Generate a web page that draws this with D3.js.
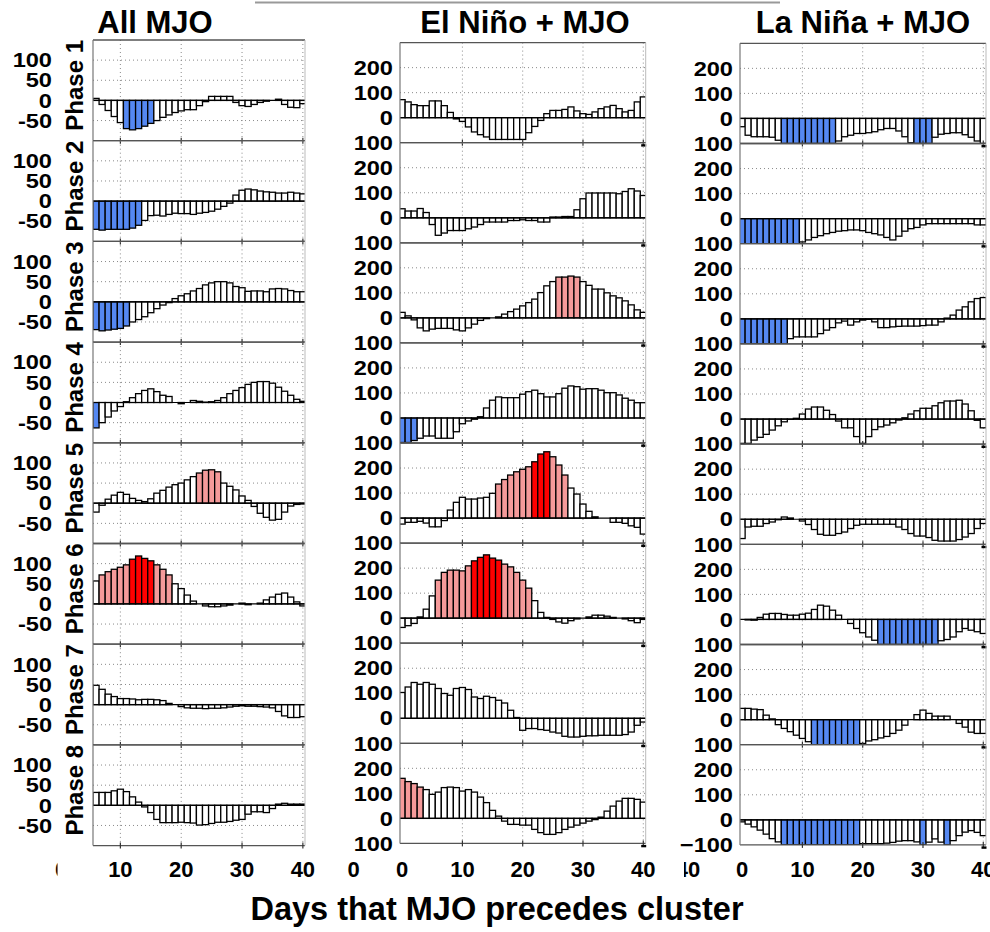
<!DOCTYPE html>
<html>
<head>
<meta charset="utf-8">
<script src="https://cdn.jsdelivr.net/npm/d3@7"></script>
<style>
  body { margin: 0; background: #fff; }
  svg { display: block; font-family: "Liberation Sans", Arial, sans-serif; font-weight: bold; }
</style>
</head>
<body>
<svg id="chart" width="990" height="932"></svg>
<script>
// days plotted (All MJO panel is cropped on the left, so it starts at day 6)
const days = d3.range(0, 41);
const allDays = d3.range(6, 41);
const xTicks = [0, 10, 20, 30, 40];
const phaseNames = ['Phase 1', 'Phase 2', 'Phase 3', 'Phase 4', 'Phase 5', 'Phase 6', 'Phase 7', 'Phase 8'];

// All MJO, days 6..40
const allMJO = [
  [5,-10,-25,-40,-55,-70,-73,-70,-64,-57,-50,-42,-36,-30,-26,-23,-23,-13,-3,10,10,10,10,-5,-13,-15,-10,-5,-2,0,3,-10,-17,-18,-8],
  [-70,-72,-70,-70,-70,-70,-67,-60,-48,-36,-35,-37,-33,-30,-31,-31,-33,-30,-28,-25,-20,-13,-5,15,27,30,28,25,23,22,20,20,22,20,18],
  [-69,-72,-70,-68,-66,-60,-50,-44,-37,-27,-17,-8,-2,8,15,20,27,33,42,47,50,50,47,38,35,26,27,27,25,32,33,32,28,25,25],
  [-63,-50,-36,-21,-10,2,12,22,30,34,27,18,15,0,-3,0,5,3,1,2,5,12,22,30,37,45,50,52,52,48,38,28,18,8,3],
  [-22,-5,10,20,27,22,12,7,4,11,25,32,40,46,50,58,66,75,82,83,78,50,42,33,18,7,-8,-25,-35,-42,-40,-22,-7,-3,-2],
  [57,72,80,86,91,97,111,119,113,107,97,86,72,50,38,22,7,0,-5,-7,-7,-5,-3,0,2,-2,0,2,10,17,24,27,17,5,-5],
  [48,38,26,20,15,15,14,12,13,13,12,10,3,0,-5,-8,-9,-9,-10,-9,-9,-8,-6,-4,-3,-4,-4,-5,-6,-8,-17,-28,-32,-32,-30],
  [32,32,32,36,40,34,21,8,-4,-18,-35,-43,-43,-43,-42,-43,-44,-49,-48,-45,-42,-42,-40,-37,-35,-22,-16,-16,-18,-8,3,5,3,3,3]
];

// El Niño + MJO, days 0..40
const elNino = [
  [72,63,52,48,48,67,67,48,21,-5,-15,-37,-57,-68,-77,-87,-87,-87,-87,-87,-87,-60,-35,-11,16,29,29,33,43,27,16,13,23,36,43,49,36,23,29,63,83],
  [36,27,27,37,21,-27,-70,-61,-51,-51,-51,-44,-37,-27,-17,-17,-17,-17,-11,-11,-8,-11,-11,-17,-17,3,3,5,5,32,76,99,99,99,99,99,96,105,116,107,89],
  [22,8,-8,-40,-52,-45,-42,-42,-42,-48,-52,-40,-25,-10,-3,0,4,15,25,35,48,61,75,101,128,145,163,163,167,163,145,130,115,115,100,88,80,68,52,32,22],
  [-98,-98,-90,-81,-72,-72,-81,-81,-81,-55,-23,-12,-5,5,40,71,84,81,81,81,95,105,111,97,84,84,97,119,128,125,115,117,117,111,101,101,92,79,71,61,61],
  [-24,-17,-17,-13,-20,-35,-35,-10,32,63,83,76,76,80,83,99,136,154,172,185,195,205,225,256,265,245,212,172,120,96,56,27,5,0,0,-17,-17,-21,-31,-37,-64],
  [-37,-30,-21,5,36,89,152,183,192,192,189,209,229,243,253,240,232,216,205,183,152,120,70,23,3,-5,-15,-20,-10,-3,0,5,12,12,8,3,0,-3,-10,-18,-5],
  [103,125,143,136,143,136,119,99,92,119,123,115,85,79,88,83,72,61,32,3,-48,-41,-41,-45,-48,-55,-59,-72,-75,-75,-72,-70,-70,-68,-68,-68,-68,-65,-55,-28,-15],
  [160,147,139,125,115,96,105,123,125,123,109,115,105,85,63,32,9,-11,-24,-24,-27,-27,-44,-57,-64,-64,-57,-44,-35,-27,-19,-11,-5,5,29,49,69,80,80,76,65]
];

// La Niña + MJO, days 0..40
const laNina = [
  [-33,-67,-73,-73,-73,-75,-87,-100,-100,-100,-100,-100,-100,-100,-100,-100,-90,-73,-67,-60,-60,-57,-53,-45,-40,-40,-50,-73,-97,-100,-100,-100,-75,-63,-60,-57,-57,-65,-75,-90,-100],
  [-100,-100,-100,-100,-100,-100,-100,-100,-100,-100,-93,-85,-75,-68,-60,-55,-50,-48,-45,-45,-48,-55,-60,-65,-75,-85,-70,-50,-40,-35,-25,-20,-20,-20,-20,-20,-20,-20,-20,-25,-25],
  [-100,-100,-100,-100,-100,-100,-100,-100,-79,-72,-72,-72,-72,-59,-45,-35,-16,-9,-25,-12,-5,-2,-12,-35,-35,-32,-30,-29,-29,-29,-27,-25,-25,-12,3,15,35,48,68,81,85],
  [-97,-97,-84,-73,-61,-44,-27,-11,-1,3,20,40,48,48,35,18,-8,-35,-35,-70,-97,-70,-42,-31,-24,-15,-4,5,20,33,43,43,53,65,72,72,75,60,33,-5,-35],
  [-77,-31,-28,-28,-17,-11,-2,9,5,0,-7,-21,-41,-60,-64,-64,-57,-51,-37,-24,-20,-20,-20,-20,-20,-20,-31,-41,-57,-67,-67,-73,-84,-87,-87,-87,-81,-71,-57,-37,-17],
  [0,-2,-3,8,21,24,24,20,17,17,21,25,40,57,53,37,17,0,-16,-36,-53,-70,-83,-100,-100,-100,-100,-100,-100,-100,-100,-100,-100,-85,-80,-70,-49,-36,-43,-49,-56],
  [45,45,42,40,18,3,-20,-35,-48,-62,-75,-88,-100,-100,-100,-100,-100,-100,-100,-100,-95,-85,-80,-73,-67,-55,-42,-22,0,20,38,25,14,14,14,0,-15,-30,-50,-55,-55],
  [-8,-17,-28,-41,-57,-75,-88,-100,-100,-100,-100,-100,-100,-100,-100,-100,-100,-100,-100,-100,-95,-95,-95,-95,-93,-90,-85,-83,-83,-88,-100,-89,-76,-89,-100,-83,-63,-49,-43,-50,-63]
];

// significant runs: [firstDay, lastDay, level]  level -1 = significant low, 1 = 90%, 2 = 95%
const allSig = [
  [[11, 15, -1]], [[6, 13, -1]], [[6, 11, -1]], [[6, 6, -1]],
  [[23, 26, 1]], [[7, 11, 1], [12, 15, 2], [16, 18, 1]], [], []
];
const elNinoSig = [
  [], [], [[26, 29, 1]], [[0, 2, -1]],
  [[16, 21, 1], [22, 24, 2], [25, 27, 1]], [[6, 11, 1], [12, 16, 2], [17, 21, 1]], [], [[0, 3, 1]]
];
const laNinaSig = [
  [[7, 15, -1], [29, 31, -1]], [[0, 9, -1]], [[0, 7, -1]], [],
  [], [[23, 32, -1]], [[12, 19, -1]], [[7, 19, -1], [30, 30, -1], [34, 34, -1]]
];

const sigColor = { '-1': '#5588f2', '1': '#f59a9a', '2': '#ff0000' };

const columns = [
  { title: 'All MJO', titleX: 155, left: 93, right: 305, x0: 5.5, x1: 40.35,
    top: 40, h: 100.7, yMin: -100, yMax: 150, yTicks: [100, 50, 0, -50], labelRight: 52,
    days: allDays, values: allMJO, sig: allSig },
  { title: 'El Niño + MJO', titleX: 525, left: 400, right: 645.7, x0: -0.35, x1: 40.4,
    top: 42.6, h: 100.1, yMin: -100, yMax: 300, yTicks: [200, 100, 0, -100], labelRight: 393,
    days: days, values: elNino, sig: elNinoSig },
  { title: 'La Niña + MJO', titleX: 863, left: 740, right: 986, x0: -0.35, x1: 40.45,
    top: 43.3, h: 100.2, yMin: -100, yMax: 300, yTicks: [200, 100, 0, -100], labelRight: 733,
    days: days, values: laNina, sig: laNinaSig }
];

const svg = d3.select('#chart');
const defs = svg.append('defs');

function levelOf(sigRuns, day) {
  for (const [a, b, lev] of sigRuns) if (day >= a && day <= b) return lev;
  return 0;
}

columns.forEach((col, ci) => {
  const x = d3.scaleLinear().domain([col.x0, col.x1]).range([col.left, col.right]);

  svg.append('text')
    .attr('x', col.titleX).attr('y', 33)
    .attr('text-anchor', 'middle')
    .style('font-size', '31px')
    .text(col.title);

  col.values.forEach((vals, pi) => {
    const top = col.top + pi * col.h;
    const bottom = top + col.h;
    const y = d3.scaleLinear().domain([col.yMin, col.yMax]).range([bottom, top]);
    const g = svg.append('g');
    const clipId = `clip-${ci}-${pi}`;
    defs.append('clipPath').attr('id', clipId)
      .append('rect').attr('x', col.left).attr('y', top)
      .attr('width', col.right - col.left).attr('height', col.h);

    // dotted grid
    xTicks.filter(t => t > col.x0 && t < col.x1 && t > 0).forEach(t => {
      g.append('line').attr('x1', x(t)).attr('x2', x(t)).attr('y1', top).attr('y2', bottom)
        .attr('stroke', '#8a8a8a').attr('stroke-width', 1).attr('stroke-dasharray', '1,3');
    });
    col.yTicks.filter(t => t !== 0 && t !== col.yMin).forEach(t => {
      g.append('line').attr('x1', col.left).attr('x2', col.right).attr('y1', y(t)).attr('y2', y(t))
        .attr('stroke', '#8a8a8a').attr('stroke-width', 1).attr('stroke-dasharray', '1,3');
    });

    // bars
    const data = col.days.map((d, i) => ({ day: d, v: vals[i], lev: levelOf(col.sig[pi], d) }));
    g.append('g').attr('clip-path', `url(#${clipId})`)
      .selectAll('rect').data(data).join('rect')
      .attr('x', d => x(d.day - 0.5))
      .attr('width', d => x(d.day + 0.5) - x(d.day - 0.5))
      .attr('y', d => y(Math.max(0, d.v)))
      .attr('height', d => Math.abs(y(d.v) - y(0)))
      .attr('fill', d => d.lev ? sigColor[d.lev] : '#fff')
      .attr('stroke', '#000').attr('stroke-width', 1.3);

    // zero line
    g.append('line').attr('x1', col.left).attr('x2', col.right).attr('y1', y(0)).attr('y2', y(0))
      .attr('stroke', '#000').attr('stroke-width', 1.2);

    // axes box
    g.append('line').attr('x1', col.left).attr('x2', col.right).attr('y1', top).attr('y2', top)
      .attr('stroke', '#555').attr('stroke-width', 1.3);
    g.append('line').attr('x1', col.left).attr('x2', col.right).attr('y1', bottom).attr('y2', bottom)
      .attr('stroke', '#555').attr('stroke-width', 1.3);
    g.append('line').attr('x1', col.left).attr('x2', col.left).attr('y1', top).attr('y2', bottom)
      .attr('stroke', '#777').attr('stroke-width', 1.2);
    g.append('line').attr('x1', col.right).attr('x2', col.right).attr('y1', top).attr('y2', bottom)
      .attr('stroke', '#bbb').attr('stroke-width', 1);

    // tick marks
    xTicks.filter(t => t > col.x0 && t < col.x1 && t > 0).forEach(t => {
      g.append('line').attr('x1', x(t)).attr('x2', x(t)).attr('y1', bottom - 3).attr('y2', bottom + 3)
        .attr('stroke', '#333').attr('stroke-width', 1.2);
    });

    // y tick labels
    col.yTicks.forEach(t => {
      let label = String(t);
      if (ci > 0 && t === col.yMin) label = (ci === 2 && pi === 7) ? '\u2212100' : '100';
      svg.append('g')
        .attr('transform', `translate(${col.labelRight},${y(t)}) scale(1.18,1)`)
        .append('text')
        .attr('text-anchor', 'end').attr('dy', '0.36em')
        .style('font-size', '20px')
        .text(label);
    });

    // phase label (left column only)
    if (ci === 0) {
      svg.append('text')
        .attr('transform', `translate(83,${top + col.h / 2 - 5}) rotate(-90)`)
        .attr('text-anchor', 'middle')
        .style('font-size', '24px')
        .text(phaseNames[pi]);
    }

    // little clipped minus marks at the right of the El Niño / La Niña panels
    if (ci > 0) {
      svg.append('rect').attr('x', col.right - 4.5).attr('y', bottom + 1.5)
        .attr('width', 5).attr('height', 2.4).attr('fill', '#000');
    }
  });

  // x tick labels
  const yLab = 877;
  xTicks.filter(t => t >= col.x0 - 0.5 && t > (ci === 0 ? 5 : -1)).forEach(t => {
    svg.append('text').attr('x', x(t)).attr('y', yLab)
      .attr('text-anchor', 'middle').style('font-size', '22px').text(t);
  });
});

// stray, partly clipped tick labels between the panels
defs.append('clipPath').attr('id', 'clipZero').append('rect').attr('x', 40).attr('y', 850).attr('width', 17.5).attr('height', 40);
svg.append('text').attr('x', 61).attr('y', 877).attr('text-anchor', 'middle')
  .attr('clip-path', 'url(#clipZero)').style('font-size', '22px').text('0');
svg.append('text').attr('x', 353.5).attr('y', 877).attr('text-anchor', 'middle').style('font-size', '22px').text('0');
defs.append('clipPath').attr('id', 'clipForty').append('rect').attr('x', 684).attr('y', 850).attr('width', 30).attr('height', 40);
svg.append('text').attr('x', 688).attr('y', 877).attr('text-anchor', 'middle')
  .attr('clip-path', 'url(#clipForty)').style('font-size', '22px').text('40');

// cropped strip at the very top
svg.append('line').attr('x1', 255).attr('x2', 780).attr('y1', 2.5).attr('y2', 2.5)
  .attr('stroke', '#999').attr('stroke-width', 2);

// common x-axis title
svg.append('text').attr('x', 497).attr('y', 920).attr('text-anchor', 'middle')
  .style('font-size', '32.5px').text('Days that MJO precedes cluster');
</script>
</body>
</html>
